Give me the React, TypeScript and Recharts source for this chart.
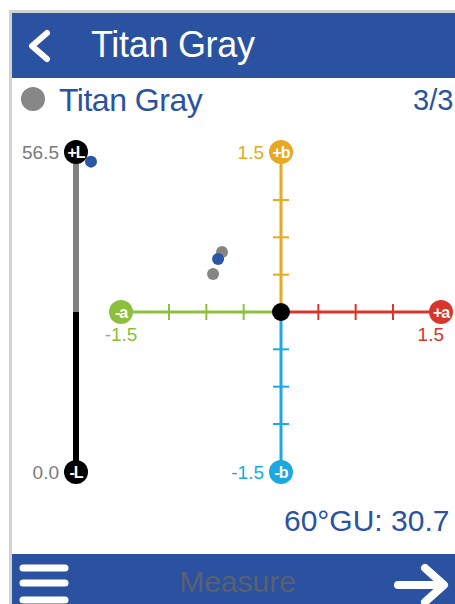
import { ScatterChart, Scatter, XAxis, YAxis, ReferenceLine, ReferenceDot } from 'recharts';

// a/b plane samples
const grayPoints = [
  { a: -0.553, b: 0.562 },
  { a: -0.637, b: 0.356 },
];
const bluePoints = [{ a: -0.59, b: 0.497 }];

// L column
const lDomain = [0, 56.5];
const lSplit = 28.25;
const lPoints = [{ x: 0.5, l: 54.8 }];

const abTicks = [0.35, 0.7, 1.05];
const abLimit = 1.5;

const BLUE = '#2A52A0';
const GREEN = '#8CC03C';
const RED = '#D8352B';
const YELLOW = '#E9A823';
const CYAN = '#1CA8E0';
const FONT = '"Liberation Sans", Arial, sans-serif';

const Cap = (props: any) => {
  const { cx, cy, fill, text, value, pos, valueColor } = props;
  let vx = cx - 17;
  let vy = cy + 7;
  let anchor: 'end' | 'middle' = 'end';
  if (pos === 'below') {
    vx = cx;
    vy = cy + 29;
    anchor = 'middle';
  } else if (pos === 'belowLeft') {
    vx = cx + 3;
    vy = cy + 29;
  }
  return (
    <g>
      <circle cx={cx} cy={cy} r={12} fill={fill} />
      <text x={cx} y={cy + 6} textAnchor="middle" fill="#fff" fontSize={16} fontWeight="bold" letterSpacing={-1} fontFamily={FONT}>
        {text}
      </text>
      <text x={vx} y={vy} textAnchor={anchor} fill={valueColor} fontSize={19} fontFamily={FONT}>
        {value}
      </text>
    </g>
  );
};

const dot = (color: string) => (p: any) => <circle cx={p.cx} cy={p.cy} r={6} fill={color} />;

const tickHalf = 0.075;

export default function App() {
  return (
    <div style={{ position: 'fixed', left: 0, top: 0, width: 455, height: 604, background: '#fff', overflow: 'hidden', fontFamily: FONT }}>
      <div style={{ position: 'absolute', left: 9, top: 10, width: 446, height: 594, borderLeft: '3px solid #d2d2d2', borderTop: '3px solid #d2d2d2' }} />
      {/* header */}
      <div style={{ position: 'absolute', left: 12, top: 13, width: 443, height: 65, background: BLUE }} />
      <svg style={{ position: 'absolute', left: 0, top: 0 }} width={455} height={80}>
        <polyline points="47,33 32,46 47,59" fill="none" stroke="#fff" strokeWidth={6} strokeLinecap="round" strokeLinejoin="round" />
      </svg>
      <div style={{ position: 'absolute', left: 91, top: 25, color: '#fff', fontSize: 36, letterSpacing: -0.3, lineHeight: '40px' }}>Titan Gray</div>
      {/* sub header */}
      <div style={{ position: 'absolute', left: 21, top: 87, width: 24, height: 24, borderRadius: 12, background: '#878787' }} />
      <div style={{ position: 'absolute', left: 59, top: 82, color: BLUE, fontSize: 32, letterSpacing: -0.5, lineHeight: '36px' }}>Titan Gray</div>
      <div style={{ position: 'absolute', left: 413, top: 82, color: BLUE, fontSize: 29, lineHeight: '36px', whiteSpace: 'nowrap' }}>3/3</div>

      {/* L column */}
      <div style={{ position: 'absolute', left: 0, top: 0 }}>
        <ScatterChart width={120} height={604} margin={{ left: 76, right: 14, top: 152, bottom: 132 }}>
          <XAxis type="number" dataKey="x" domain={[0, 1]} hide />
          <YAxis type="number" dataKey="l" domain={lDomain} hide />
          <ReferenceLine segment={[{ x: 0, y: lSplit }, { x: 0, y: lDomain[1] }]} stroke="#808080" strokeWidth={6} ifOverflow="visible" />
          <ReferenceLine segment={[{ x: 0, y: lDomain[0] }, { x: 0, y: lSplit }]} stroke="#000" strokeWidth={6} ifOverflow="visible" />
          <ReferenceDot x={0} y={lDomain[1]} ifOverflow="visible" shape={(p: any) => <Cap {...p} fill="#000" text="+L" value={lDomain[1].toFixed(1)} valueColor="#7a7a7a" pos="left" />} />
          <ReferenceDot x={0} y={lDomain[0]} ifOverflow="visible" shape={(p: any) => <Cap {...p} fill="#000" text="-L" value={lDomain[0].toFixed(1)} valueColor="#7a7a7a" pos="left" />} />
          <Scatter data={lPoints} dataKey="l" shape={dot('#2A56A5')} isAnimationActive={false} />
        </ScatterChart>
      </div>

      {/* a / b plane */}
      <div style={{ position: 'absolute', left: 0, top: 0 }}>
        <ScatterChart width={455} height={604} margin={{ left: 121, right: 14, top: 152, bottom: 132 }}>
          <XAxis type="number" dataKey="a" domain={[-abLimit, abLimit]} hide />
          <YAxis type="number" dataKey="b" domain={[-abLimit, abLimit]} hide />
          <ReferenceLine segment={[{ x: -abLimit, y: 0 }, { x: 0, y: 0 }]} stroke={GREEN} strokeWidth={3} ifOverflow="visible" />
          <ReferenceLine segment={[{ x: 0, y: 0 }, { x: abLimit, y: 0 }]} stroke={RED} strokeWidth={3} ifOverflow="visible" />
          <ReferenceLine segment={[{ x: 0, y: 0 }, { x: 0, y: abLimit }]} stroke={YELLOW} strokeWidth={3} ifOverflow="visible" />
          <ReferenceLine segment={[{ x: 0, y: 0 }, { x: 0, y: -abLimit }]} stroke={CYAN} strokeWidth={3} ifOverflow="visible" />
          {abTicks.map((t) => (
            <ReferenceLine key={'ga' + t} segment={[{ x: -t, y: -tickHalf }, { x: -t, y: tickHalf }]} stroke={GREEN} strokeWidth={2} ifOverflow="visible" />
          ))}
          {abTicks.map((t) => (
            <ReferenceLine key={'ra' + t} segment={[{ x: t, y: -tickHalf }, { x: t, y: tickHalf }]} stroke={RED} strokeWidth={2} ifOverflow="visible" />
          ))}
          {abTicks.map((t) => (
            <ReferenceLine key={'yb' + t} segment={[{ x: -tickHalf, y: t }, { x: tickHalf, y: t }]} stroke={YELLOW} strokeWidth={2} ifOverflow="visible" />
          ))}
          {abTicks.map((t) => (
            <ReferenceLine key={'cb' + t} segment={[{ x: -tickHalf, y: -t }, { x: tickHalf, y: -t }]} stroke={CYAN} strokeWidth={2} ifOverflow="visible" />
          ))}
          <ReferenceDot x={0} y={0} r={9} fill="#000" stroke="none" ifOverflow="visible" />
          <ReferenceDot x={-abLimit} y={0} ifOverflow="visible" shape={(p: any) => <Cap {...p} fill={GREEN} text="-a" value={(-abLimit).toFixed(1)} valueColor={GREEN} pos="below" />} />
          <ReferenceDot x={abLimit} y={0} ifOverflow="visible" shape={(p: any) => <Cap {...p} fill={RED} text="+a" value={abLimit.toFixed(1)} valueColor={RED} pos="belowLeft" />} />
          <ReferenceDot x={0} y={abLimit} ifOverflow="visible" shape={(p: any) => <Cap {...p} fill={YELLOW} text="+b" value={abLimit.toFixed(1)} valueColor={YELLOW} pos="left" />} />
          <ReferenceDot x={0} y={-abLimit} ifOverflow="visible" shape={(p: any) => <Cap {...p} fill={CYAN} text="-b" value={(-abLimit).toFixed(1)} valueColor={CYAN} pos="left" />} />
          <Scatter data={grayPoints} dataKey="b" shape={dot('#858585')} isAnimationActive={false} />
          <Scatter data={bluePoints} dataKey="b" shape={dot('#2A56A5')} isAnimationActive={false} />
        </ScatterChart>
      </div>

      <div style={{ position: 'absolute', left: 284, top: 503, color: BLUE, fontSize: 30, lineHeight: '36px', whiteSpace: 'nowrap' }}>60°GU: 30.7</div>

      {/* footer */}
      <div style={{ position: 'absolute', left: 12, top: 554, width: 443, height: 50, background: BLUE }} />
      <svg style={{ position: 'absolute', left: 0, top: 554 }} width={455} height={50}>
        <g stroke="#fff" strokeWidth={7} strokeLinecap="round">
          <line x1={23} y1={14} x2={65} y2={14} />
          <line x1={23} y1={29} x2={65} y2={29} />
          <line x1={23} y1={46} x2={65} y2={46} />
        </g>
        <g stroke="#fff" strokeWidth={8} strokeLinecap="round" strokeLinejoin="round" fill="none">
          <line x1={398} y1={31} x2={440} y2={31} />
          <polyline points="425,14 444,31 425,48" />
        </g>
      </svg>
      <div style={{ position: 'absolute', left: 0, width: 475, top: 564, textAlign: 'center', color: '#5B6070', fontSize: 30, lineHeight: '36px' }}>Measure</div>
    </div>
  );
}
